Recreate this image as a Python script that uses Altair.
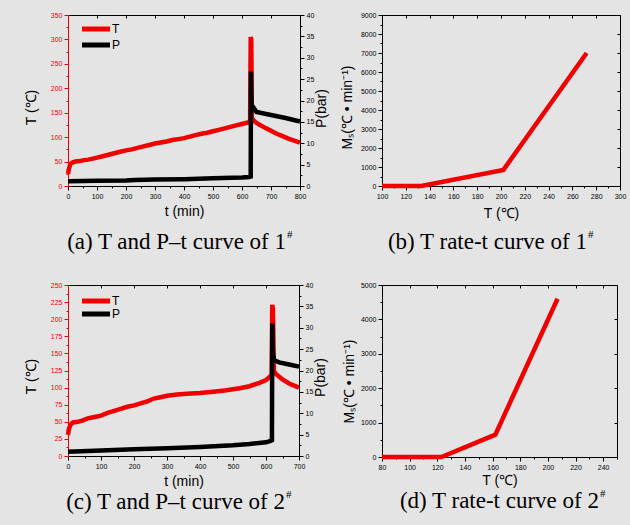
import altair as alt
import pandas as pd

RED = "#f00000"
BG = "#e4e4e4"
SANS = "Liberation Sans"
SERIF = "Liberation Serif"

# ---- sample 1#: temperature T (℃) and pressure P (bar) against time t (min)
a_time_T = [0, 3, 8, 15, 25, 40, 55, 70, 85, 100, 120, 140, 160, 180, 200, 220, 240, 260, 280, 300,
            320, 340, 360, 380, 400, 420, 440, 460, 480, 500, 520, 540, 560, 580, 600, 620, 628,
            630, 632, 634, 640, 650, 665, 680, 700, 720, 740, 760, 780, 800]
a_temp = [25, 35, 45, 48, 50, 51, 53, 54, 56, 58, 61, 64, 67, 70, 73, 75, 78, 81, 84, 87,
          89, 91, 94, 96, 98, 101, 104, 107, 109, 112, 115, 118, 121, 124, 127, 130, 131,
          305, 300, 140, 134, 129, 124, 119, 113, 107, 102, 97, 93, 89]
a_time_P = [0, 100, 200, 230, 300, 400, 500, 600, 625, 630, 631, 633, 637, 650, 700, 750, 800]
a_pres = [1.1, 1.2, 1.3, 1.4, 1.5, 1.6, 1.8, 2.0, 2.1, 2.2, 26.8, 18.2, 18.6, 17.3, 16.6, 15.9, 15.1]

# ---- sample 1#: Ms rate against temperature
b_temp = [100, 133, 202, 272]
b_rate = [0, 0, 850, 7000]

# ---- sample 2#: temperature and pressure against time
c_time_T = [0, 3, 8, 15, 30, 45, 60, 80, 100, 120, 140, 160, 180, 200, 220, 240, 260, 280, 300, 330,
            360, 400, 440, 480, 520, 550, 580, 600, 612, 617, 619, 621, 624, 630, 650, 670, 700]
c_temp = [31, 40, 46, 49, 50, 52, 55, 57, 59, 63, 66, 69, 72, 74, 77, 80, 84, 86, 88, 90,
          91, 92, 94, 96, 99, 102, 107, 111, 116, 119, 221, 214, 124, 120, 112, 106, 100]
c_time_P = [0, 100, 200, 300, 400, 500, 550, 600, 612, 618, 619, 621, 625, 640, 670, 700]
c_pres = [1.0, 1.3, 1.6, 1.8, 2.1, 2.5, 2.8, 3.2, 3.5, 3.7, 31.0, 24.0, 22.4, 21.9, 21.4, 20.9]

# ---- sample 2#: Ms rate against temperature
d_temp = [80, 123, 162, 207]
d_rate = [0, 0, 650, 4600]

SERIES = ["T", "P"]
SERIES_COLORS = [RED, "black"]


def steps(lo, hi, step):
    out, v = [], lo
    while v <= hi + 1e-9:
        out.append(round(v, 3))
        v += step
    return out


def axis(values, major, color="black", title=None, **kw):
    test = f"datum.value % {major} === 0"
    return alt.Axis(
        values=values, format="d",
        labelExpr=f"{test} ? datum.label : ''",
        tickSize={"condition": {"test": test, "value": 4}, "value": 2},
        tickColor=color, domainColor=color, labelColor=color,
        labelFont=SANS, labelFontSize=7, labelPadding=2,
        labelFlush=False, labelOverlap=False, grid=False,
        title=title, titleFont=SANS, titleFontSize=14, titleFontWeight="normal",
        titleColor="black", **kw)


def frame_axis(values, orient):
    # inward ticks on the top / right edges of the frame
    return alt.Axis(orient=orient, values=values, labels=False, domain=False, grid=False,
                    title=None, tickColor="black", tickSize={"expr": "-3"})


def caption_layers(text, sup, x, y):
    cap = alt.Chart(pd.DataFrame({"c": [text]})).mark_text(
        font=SERIF, fontSize=23, align="right", baseline="alphabetic", color="black"
    ).encode(text="c:N", x=alt.value(x), y=alt.value(y))
    hsh = alt.Chart(pd.DataFrame({"c": [sup]})).mark_text(
        font=SERIF, fontSize=11, align="left", baseline="alphabetic", color="black"
    ).encode(text="c:N", x=alt.value(x + 1), y=alt.value(y - 11))
    return [cap, hsh]


def legend_layers(rows_y):
    # key in the upper-left corner: a thick line sample and the series name
    out = []
    for name, col, yy in zip(SERIES, SERIES_COLORS, rows_y):
        key = pd.DataFrame({"s": [name]})
        out.append(alt.Chart(key).mark_rule(strokeWidth=5, color=col).encode(
            x=alt.value(14), x2=alt.value(42), y=alt.value(yy)))
        out.append(alt.Chart(key).mark_text(
            font=SANS, fontSize=12, align="left", baseline="middle", color="black"
        ).encode(text="s:N", x=alt.value(44), y=alt.value(yy)))
    return out


def tp_panel(time_T, temp, time_P, pres, x_max, t_max, t_step, t_major,
             w, h, rows_y, cap, sup, cap_x, cap_y, ttl):
    dT = pd.DataFrame({"t": time_T, "v": temp})
    dP = pd.DataFrame({"t": time_P, "v": pres})
    xs = alt.Scale(domain=[0, x_max], nice=False)
    xvals = steps(0, x_max, 50)
    line_T = alt.Chart(dT).mark_line(strokeWidth=4.5, color=SERIES_COLORS[0]).encode(
        x=alt.X("t:Q", scale=xs,
                axis=axis(xvals, 100, title="t (min)", orient="bottom",
                          titleY=ttl["xy"], titleBaseline="top")),
        y=alt.Y("v:Q", scale=alt.Scale(domain=[0, t_max], nice=False),
                axis=axis(steps(0, t_max, t_step), t_major, color=RED, title="T (℃)",
                          orient="left", titleAngle=270, titleBaseline="bottom",
                          titleX=ttl["lx"], titleY=ttl["ly"])))
    line_P = alt.Chart(dP).mark_line(strokeWidth=4.5, color=SERIES_COLORS[1]).encode(
        x=alt.X("t:Q", scale=xs, axis=None),
        y=alt.Y("v:Q", scale=alt.Scale(domain=[0, 40], nice=False),
                axis=axis(steps(0, 40, 2.5), 5, title="P(bar)", orient="right",
                          titleAngle=270, titleBaseline="bottom",
                          titleX=ttl["rx"], titleY=ttl["ry"])))
    frame = alt.Chart(dT).mark_line(strokeOpacity=0).encode(
        x=alt.X("t:Q", scale=xs, axis=frame_axis(steps(0, x_max, 100), "top")),
        y=alt.Y("v:Q", scale=alt.Scale(domain=[0, t_max], nice=False), axis=None))
    return alt.layer(line_T, line_P, frame, *legend_layers(rows_y),
                     *caption_layers(cap, sup, cap_x, cap_y)).resolve_scale(
        y="independent").resolve_axis(x="independent").properties(width=w, height=h)


def rate_panel(temp, rate, x_lo, x_hi, x_lab_hi, y_max, w, h, cap, sup, cap_x, cap_y, ttl):
    df = pd.DataFrame({"T": temp, "r": rate})
    xs = alt.Scale(domain=[x_lo, x_hi], nice=False)
    ys = alt.Scale(domain=[0, y_max], nice=False)
    line = alt.Chart(df).mark_line(strokeWidth=4.5, color=RED).encode(
        x=alt.X("T:Q", scale=xs,
                axis=axis(steps(x_lo, x_hi, 10), 20, title="T (℃)", orient="bottom",
                          titleY=ttl["xy"], titleBaseline="top")),
        y=alt.Y("r:Q", scale=ys,
                axis=axis(steps(0, y_max, 500), 1000, title="Mₛ(℃ • min⁻¹)", orient="left",
                          titleAngle=270, titleBaseline="bottom",
                          titleX=ttl["lx"], titleY=ttl["ly"])))
    frame = alt.Chart(df).mark_line(strokeOpacity=0).encode(
        x=alt.X("T:Q", scale=xs, axis=frame_axis(steps(x_lo, x_lab_hi, 20), "top")),
        y=alt.Y("r:Q", scale=ys, axis=frame_axis(steps(0, y_max, 1000), "right")))
    return alt.layer(line, frame, *caption_layers(cap, sup, cap_x, cap_y)).resolve_axis(
        x="independent", y="independent").properties(width=w, height=h)


panel_a = tp_panel(a_time_T, a_temp, a_time_P, a_pres, 800, 350, 25, 50, 232, 171, [14, 30],
                   "(a) T and P–t curve of 1", "#", 218, 234,
                   {"xy": 18, "lx": -30, "ly": 92, "rx": 28, "ry": 93})
panel_b = rate_panel(b_temp, b_rate, 100, 300, 300, 9000, 238, 171,
                     "(b) T rate-t curve of 1", "#", 205, 234,
                     {"xy": 20, "lx": -28, "ly": 92})
panel_c = tp_panel(c_time_T, c_temp, c_time_P, c_pres, 700, 250, 12.5, 25, 231, 171, [16, 29],
                   "(c) T and P–t curve of 2", "#", 217, 224,
                   {"xy": 18, "lx": -30, "ly": 91, "rx": 28, "ry": 92})
panel_d = rate_panel(d_temp, d_rate, 80, 250, 240, 5000, 235, 172,
                     "(d) T rate-t curve of 2", "#", 217, 223,
                     {"xy": 16, "lx": -26, "ly": 96})

chart = alt.concat(
    panel_a, panel_b, panel_c, panel_d, columns=2,
    spacing={"row": 99, "column": 82}, bounds="flush", align="each"
).properties(
    autosize=alt.AutoSizeParams(type="none"),
    padding={"left": 68, "top": 15, "right": 562, "bottom": 510},
).configure(background=BG).configure_view(stroke="black", strokeWidth=1)

chart.save("out.html", embed_options={"renderer": "svg", "actions": False})
